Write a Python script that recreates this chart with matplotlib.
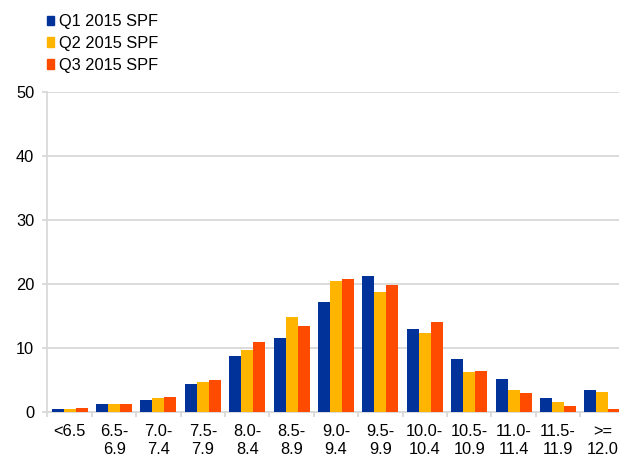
import numpy as np
import matplotlib
matplotlib.use("Agg")
from matplotlib import pyplot as plt
from matplotlib.patches import Patch

plt.rcParams['font.family'] = ['Liberation Sans', 'DejaVu Sans']

categories = ['<6.5', '6.5-\n6.9', '7.0-\n7.4', '7.5-\n7.9', '8.0-\n8.4', '8.5-\n8.9',
              '9.0-\n9.4', '9.5-\n9.9', '10.0-\n10.4', '10.5-\n10.9', '11.0-\n11.4',
              '11.5-\n11.9', '>=\n12.0']
q1_2015 = [0.5, 1.2, 1.9, 4.4, 8.8, 11.6, 17.2, 21.3, 13.0, 8.3, 5.1, 2.2, 3.5]
q2_2015 = [0.5, 1.2, 2.2, 4.7, 9.7, 14.9, 20.5, 18.8, 12.3, 6.2, 3.4, 1.5, 3.1]
q3_2015 = [0.7, 1.3, 2.4, 5.0, 10.9, 13.4, 20.8, 19.8, 14.0, 6.4, 3.0, 1.0, 0.4]

series = [('Q1 2015 SPF', q1_2015, '#003299'),
          ('Q2 2015 SPF', q2_2015, '#FFB400'),
          ('Q3 2015 SPF', q3_2015, '#FF4B00')]

W, H = 619, 470
fs = 11.8
fig = plt.figure(figsize=(W / 100, H / 100), dpi=100)
# plot area runs a little past the right edge, like the original
ax = fig.add_axes([47.5 / W, 58 / H, 577 / W, 319.7 / H])

x = np.arange(len(categories))
bw = 0.27
for i, (name, vals, col) in enumerate(series):
    ax.bar(x + (i - 1) * bw, vals, bw, color=col, label=name, zorder=3)

grid_col = '#d9d9d9'
ax.set_ylim(0, 50)
ax.set_yticks(range(0, 51, 10))
ax.set_xlim(-0.5, len(categories) - 0.5)
ax.yaxis.grid(True, color=grid_col, linewidth=1.3, zorder=0)
for s in ['top', 'right']:
    ax.spines[s].set_visible(False)
for s in ['left', 'bottom']:
    ax.spines[s].set_color(grid_col)
    ax.spines[s].set_linewidth(1.3)

ax.set_xticks(x)
ax.set_xticklabels(categories)
ax.set_xticks(np.arange(-0.5, len(categories)), minor=True)
ax.tick_params(axis='x', which='major', length=0, pad=9, labelsize=fs)
ax.tick_params(axis='x', which='minor', length=3.6, color=grid_col, width=1.3)
ax.tick_params(axis='y', length=3.6, color=grid_col, width=1.3, pad=6, labelsize=fs)

handles = [Patch(color=c) for _, _, c in series]
fig.legend(handles, [n for n, _, _ in series], loc='upper left',
           bbox_to_anchor=(47 / W, 1 - 14 / H), frameon=False, fontsize=fs,
           borderpad=0, borderaxespad=0, handlelength=0.45, handleheight=0.5,
           handletextpad=0.3, labelspacing=0.42)

fig.savefig('out.png', dpi=100)
